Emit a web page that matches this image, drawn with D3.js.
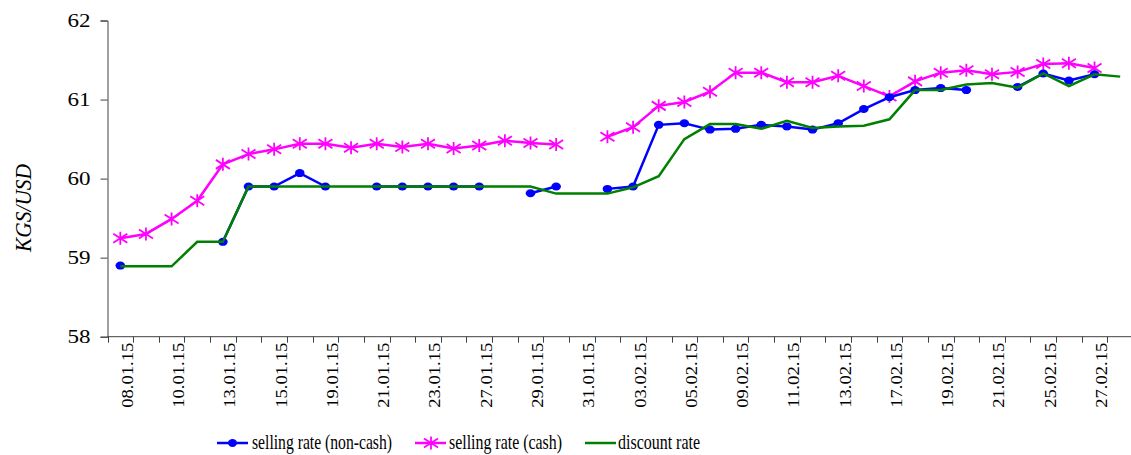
<!DOCTYPE html>
<html>
<head>
<meta charset="utf-8">
<script src="https://cdn.jsdelivr.net/npm/d3@7"></script>
<style>
	body { margin: 0; background: #fff; }
	svg { display: block; }
	text { font-family: "Liberation Serif", "Times New Roman", serif; fill: #000; }
</style>
</head>
<body>
<svg width="1131" height="455"></svg>
<script>
// trading days (labels shown every other day)
var dates = [
	"08.01.15", "09.01.15", "10.01.15", "12.01.15", "13.01.15", "14.01.15", "15.01.15", "16.01.15",
	"19.01.15", "20.01.15", "21.01.15", "22.01.15", "23.01.15", "26.01.15", "27.01.15", "28.01.15",
	"29.01.15", "30.01.15", "31.01.15", "02.02.15", "03.02.15", "04.02.15", "05.02.15", "06.02.15",
	"09.02.15", "10.02.15", "11.02.15", "12.02.15", "13.02.15", "16.02.15", "17.02.15", "18.02.15",
	"19.02.15", "20.02.15", "21.02.15", "24.02.15", "25.02.15", "26.02.15", "27.02.15", "28.02.15"
];

var nonCash = [
	58.90, null, null, null, 59.20, 59.90, 59.90, 60.07,
	59.90, null, 59.90, 59.90, 59.90, 59.90, 59.90, null,
	59.815, 59.90, null, 59.87, 59.90, 60.68, 60.70, 60.62,
	60.63, 60.68, 60.66, 60.62, 60.70, 60.88, 61.03, 61.12,
	61.145, 61.12, null, 61.16, 61.33, 61.24, 61.32, null
];

var cash = [
	59.245, 59.30, 59.49, 59.72, 60.18, 60.31, 60.37, 60.44,
	60.44, 60.39, 60.44, 60.40, 60.44, 60.38, 60.42, 60.48,
	60.45, 60.43, null, 60.53, 60.65, 60.92, 60.97, 61.10,
	61.34, 61.34, 61.22, 61.22, 61.30, 61.17, 61.04, 61.23,
	61.34, 61.37, 61.32, 61.35, 61.45, 61.46, 61.40, null
];

var discount = [
	58.89, 58.89, 58.89, 59.20, 59.20, 59.90, 59.90, 59.90,
	59.90, 59.90, 59.90, 59.90, 59.90, 59.90, 59.90, 59.90,
	59.90, 59.81, 59.81, 59.81, 59.89, 60.03, 60.50, 60.69,
	60.69, 60.63, 60.73, 60.64, 60.66, 60.67, 60.75, 61.12,
	61.12, 61.19, 61.21, 61.15, 61.33, 61.17, 61.32, 61.29
];

var yTicks = [58, 59, 60, 61, 62];

var legendLabels = ["selling rate (non-cash)", "selling rate (cash)", "discount rate"];

var svg = d3.select("svg");

var axisColor = "#404040";

// scales
var x = d3.scaleBand()
	.domain(dates)
	.range([107.5, 1133]);

var y = d3.scaleLinear()
	.domain([58, 62])
	.range([336.7, 20.5]);

function cx(i) { return x(dates[i]) + x.bandwidth() / 2; }

// y axis
var yAxis = svg.append("g")
	.attr("transform", "translate(107.5,0)")
	.call(d3.axisLeft(y).tickValues(yTicks).tickSize(7).tickPadding(10).tickFormat(d3.format("d")));

yAxis.select(".domain").attr("stroke", axisColor);
yAxis.selectAll(".tick line").attr("stroke", axisColor);
yAxis.selectAll(".tick text")
	.attr("font-size", 19)
	.attr("fill", "#000")
	.attr("textLength", 23)
	.attr("lengthAdjust", "spacingAndGlyphs");

// y title
svg.append("text")
	.attr("transform", "translate(31,208) rotate(-90)")
	.attr("text-anchor", "middle")
	.attr("font-size", 23)
	.attr("font-style", "italic")
	.attr("textLength", 88)
	.attr("lengthAdjust", "spacingAndGlyphs")
	.text("KGS/USD");

// x axis line and ticks at the band edges
var xAxis = svg.append("g");

xAxis.append("line")
	.attr("x1", 107.5)
	.attr("x2", 1133)
	.attr("y1", y(58))
	.attr("y2", y(58))
	.attr("stroke", axisColor);

xAxis.selectAll("line.tick")
	.data(dates)
	.enter().append("line")
	.attr("class", "tick")
	.attr("x1", function(d) { return Math.round(x(d)) + 0.5; })
	.attr("x2", function(d) { return Math.round(x(d)) + 0.5; })
	.attr("y1", y(58))
	.attr("y2", y(58) + 6)
	.attr("stroke", axisColor);

xAxis.selectAll("text")
	.data(dates.filter(function(d, i) { return i % 2 === 0; }))
	.enter().append("text")
	.attr("transform", function(d) {
		return "translate(" + (x(d) + x.bandwidth() / 2 + 12.5) + "," + (y(58) + 6) + ") rotate(-90)";
	})
	.attr("text-anchor", "end")
	.attr("font-size", 16)
	.attr("textLength", 65)
	.attr("lengthAdjust", "spacingAndGlyphs")
	.text(function(d) { return d; });

var line = d3.line()
	.defined(function(d) { return d != null; })
	.x(function(d, i) { return cx(i); })
	.y(function(d) { return y(d); });

var starPath = "M0,-6.5L0,6.5M-7,-4.5L7,4.5M-7,4.5L7,-4.5";

// pink line and star markers
svg.append("path")
	.datum(cash)
	.attr("fill", "none")
	.attr("stroke", "#FF00FF")
	.attr("stroke-width", 2.5)
	.attr("d", line);

svg.append("g")
	.selectAll("path")
	.data(cash.map(function(v, i) { return { v: v, i: i }; }).filter(function(d) { return d.v != null; }))
	.enter().append("path")
	.attr("transform", function(d) { return "translate(" + cx(d.i) + "," + y(d.v) + ")"; })
	.attr("d", starPath)
	.attr("stroke", "#FF00FF")
	.attr("stroke-width", 1.8)
	.attr("fill", "none");

// blue line and dots
svg.append("path")
	.datum(nonCash)
	.attr("fill", "none")
	.attr("stroke", "#0000FF")
	.attr("stroke-width", 2.5)
	.attr("d", line);

svg.append("g")
	.selectAll("ellipse")
	.data(nonCash.map(function(v, i) { return { v: v, i: i }; }).filter(function(d) { return d.v != null; }))
	.enter().append("ellipse")
	.attr("cx", function(d) { return cx(d.i); })
	.attr("cy", function(d) { return y(d.v); })
	.attr("rx", 4.8)
	.attr("ry", 4)
	.attr("fill", "#0000FF");

// green discount line on top
svg.append("path")
	.datum(discount)
	.attr("fill", "none")
	.attr("stroke", "#008000")
	.attr("stroke-width", 2.5)
	.attr("d", line);

// legend
var legendX = [217, 415, 585],
	legendW = [140, 113, 82],
	legendY = 443;

var legend = svg.append("g")
	.selectAll("g")
	.data(legendLabels)
	.enter().append("g")
	.attr("transform", function(d, i) { return "translate(" + legendX[i] + "," + legendY + ")"; });

legend.append("line")
	.attr("x1", 0)
	.attr("x2", 31)
	.attr("stroke", function(d, i) { return [ "#0000FF", "#FF00FF", "#008000" ][i]; })
	.attr("stroke-width", 2.5);

legend.filter(function(d, i) { return i === 0; })
	.append("ellipse")
	.attr("cx", 15.5)
	.attr("rx", 4.5)
	.attr("ry", 4)
	.attr("fill", "#0000FF");

legend.filter(function(d, i) { return i === 1; })
	.append("path")
	.attr("transform", "translate(16,0)")
	.attr("d", starPath)
	.attr("stroke", "#FF00FF")
	.attr("stroke-width", 1.8);

legend.append("text")
	.attr("x", function(d, i) { return [35, 34, 33][i]; })
	.attr("y", 6)
	.attr("font-size", 21)
	.attr("textLength", function(d, i) { return legendW[i]; })
	.attr("lengthAdjust", "spacingAndGlyphs")
	.text(function(d) { return d; });
</script>
</body>
</html>
